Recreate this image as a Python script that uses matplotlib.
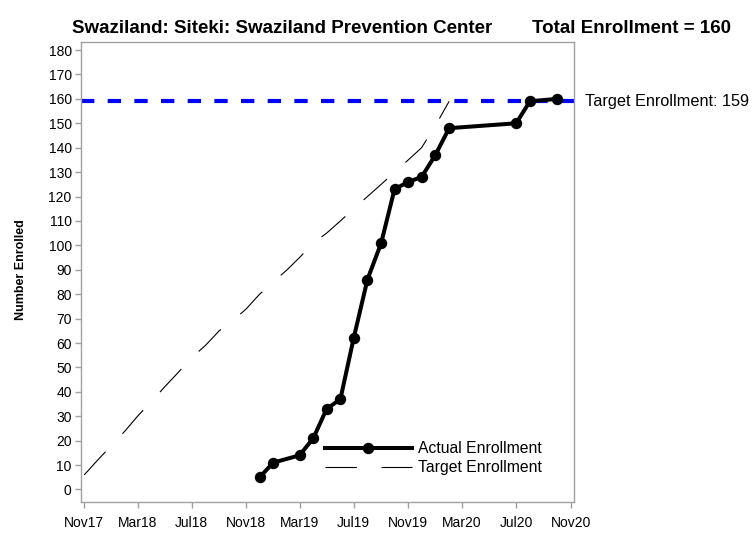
import matplotlib
matplotlib.use("Agg")
import matplotlib.pyplot as plt
from matplotlib.lines import Line2D
import matplotlib.transforms as mtransforms
import pandas as pd

# ---- data ----
actual_dates = ["2018-12-01", "2019-01-01", "2019-03-01", "2019-04-01", "2019-05-01",
                "2019-06-01", "2019-07-01", "2019-08-01", "2019-09-01", "2019-10-01",
                "2019-11-01", "2019-12-01", "2020-01-01", "2020-02-01", "2020-07-01",
                "2020-08-01", "2020-10-01"]
actual_values = [5, 11, 14, 21, 33, 37, 62, 86, 101, 123, 126, 128, 137, 148, 150, 159, 160]

target_dates = ["2017-11-01", "2017-12-01", "2018-01-01", "2018-02-01", "2018-03-01",
                "2018-04-01", "2018-05-01", "2018-06-01", "2018-07-01", "2018-08-01",
                "2018-09-01", "2018-10-01", "2018-11-01", "2018-12-01", "2019-01-01",
                "2019-02-01", "2019-03-01", "2019-04-01", "2019-05-01", "2019-06-01",
                "2019-07-01", "2019-08-01", "2019-09-01", "2019-10-01", "2019-11-01",
                "2019-12-01", "2020-01-01", "2020-02-01"]
target_values = [6, 12, 18, 24, 30, 36, 42, 48, 54, 59, 65, 69, 74, 80, 85, 90, 95,
                 101, 105, 110, 115, 120, 125, 130, 135, 140, 149, 159]

target_enrollment = 159
total_enrollment = 160

x_tick_dates = ["2017-11-01", "2018-03-01", "2018-07-01", "2018-11-01", "2019-03-01",
                "2019-07-01", "2019-11-01", "2020-03-01", "2020-07-01", "2020-11-01"]
x_tick_labels = ["Nov17", "Mar18", "Jul18", "Nov18", "Mar19", "Jul19", "Nov19",
                 "Mar20", "Jul20", "Nov20"]
y_ticks = list(range(0, 181, 10))

title_left = "Swaziland: Siteki: Swaziland Prevention Center"
title_right = f"Total Enrollment = {total_enrollment}"

# ---- style ----
plt.rcParams["font.family"] = ["Liberation Sans", "DejaVu Sans"]
plt.rcParams["lines.scale_dashes"] = False

W, H = 754, 533
fig = plt.figure(figsize=(W / 100, H / 100), dpi=100)
ax = fig.add_axes([80.7 / W, 1 - 501.7 / H, (574.3 - 80.7) / W, (501.7 - 41.5) / H])

ad = pd.to_datetime(actual_dates)
td = pd.to_datetime(target_dates)

ax.axhline(target_enrollment, color="#0000ff", lw=3, dashes=(9.6, 9.6),
           solid_capstyle="butt", dash_capstyle="butt", zorder=1)
ax.plot(td, target_values, color="black", lw=0.8, dashes=(22.6, 17.8), zorder=2)
ax.plot(ad, actual_values, color="black", lw=2.9, marker="o", markersize=7.2, zorder=3)

ax.set_xlim(pd.Timestamp("2017-10-24"), pd.Timestamp("2020-11-09"))
ax.set_ylim(-5, 183.5)
ax.set_yticks(y_ticks)
ax.set_xticks(pd.to_datetime(x_tick_dates))
ax.set_xticklabels(x_tick_labels)

for s in ax.spines.values():
    s.set_color("#a0a0a0")
    s.set_linewidth(1)
ax.tick_params(axis="both", colors="#a0a0a0", labelcolor="black", length=4.5, width=1,
               labelsize=10)
ax.tick_params(axis="y", pad=2)
ax.tick_params(axis="x", pad=6)

# legend
handles = [Line2D([], [], color="black", lw=2.9, marker="o", markersize=7.2),
           Line2D([], [], color="black", lw=0.8, dashes=(22.6, 17.8))]
ax.legend(handles, ["Actual Enrollment", "Target Enrollment"], loc="upper left",
          bbox_to_anchor=(0.495, 0.131), frameon=False, fontsize=11.3,
          handlelength=5.52, handletextpad=0.4, borderpad=0, borderaxespad=0,
          labelspacing=0.25)

trans = mtransforms.blended_transform_factory(ax.transAxes, ax.transData)
ax.text(1.0217, target_enrollment, f"Target Enrollment: {target_enrollment}",
        transform=trans, ha="left", va="center", fontsize=11.7, clip_on=False)

fig.text(72 / W, 1 - 33 / H, title_left, ha="left", va="baseline",
         fontsize=13.5, fontweight="bold")
fig.text(731 / W, 1 - 33 / H, title_right, ha="right", va="baseline",
         fontsize=13.5, fontweight="bold")
fig.text(20.7 / W, 1 - 270 / H, "Number Enrolled", rotation=90, ha="center",
         va="center", fontsize=9, fontweight="bold")

fig.savefig("out.png", dpi=100)
